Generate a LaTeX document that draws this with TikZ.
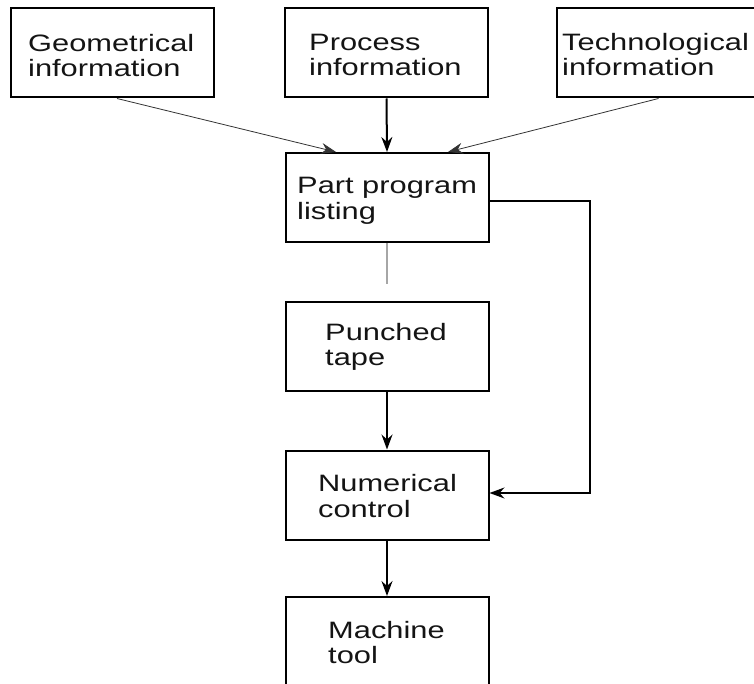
\documentclass[tikz,border=0pt]{standalone}
\usepackage{fontspec}
\setmainfont{Liberation Sans}[FakeStretch=1.3]
\usetikzlibrary{arrows.meta,calc}
\begin{document}
\begin{tikzpicture}[x=1pt,y=-1pt,
  box/.style={draw=black,line width=2pt,rectangle,minimum width=203pt,minimum height=89pt,inner sep=0pt},
  % the base anchor of a two-line label sits on its last line
  lbl/.style={anchor=base west,inner sep=0pt,align=left,font=\fontsize{23.7}{25.5}\selectfont,text=black!92},
  tip/.style={-{Stealth[length=15pt,width=11pt,inset=5pt]}},
  thin arrow/.style={tip,line width=0.8pt,draw=black!80},
  mid arrow/.style={tip,line width=1.3pt},
  bold arrow/.style={tip,line width=2pt}]
\useasboundingbox (0,0) rectangle (754,684);
\clip (0,0) rectangle (754,684);

% input boxes
\node[box] (geo)  at (112,53) {};
\node[box] (proc) at (386.5,53) {};
\node[box] (tech) at (658.5,53) {};
\node[lbl] (geoT)  at (28,77)  {Geometrical\\information};
\node[lbl] (procT) at (309,76) {Process\\information};
\node[lbl] (techT) at (562,76) {Technological\\information};

% main chain
\node[box] (part)  at (387,197.5) {};
\node[box] (tape)  at (387,346) {};
\node[box] (nc)    at (387,495) {};
\node[box] (mach)  at (387,641.5) {};
\node[lbl] (partT) at (297,219.5) {Part program\\listing};
\node[lbl] (tapeT) at (325,365.5) {Punched\\tape};
\node[lbl] (ncT)   at (318,517) {Numerical\\control};
\node[lbl] (machT) at (328,663.5) {Machine\\tool};

% inputs into the part program
\draw[thin arrow] ($(geo.south)+(5,0)$) -- ($(part.north)+(-51,0)$);
\draw[bold arrow] (proc.south) -- (part.north);
\draw[thin arrow] (tech.south) -- ($(part.north)+(61,0)$);

% broken link below the listing
\coordinate (gap) at (387,284);
\draw[line width=1.2pt,draw=black!35] (part.south) -- (gap);

% downstream flow
\draw[mid arrow] (tape.south) -- (nc.north);
\draw[mid arrow] (nc.south) -- (mach.north);

% direct feed to numerical control
\coordinate (fbTop) at (590,201);
\coordinate (fbBot) at (590,493);
\draw[mid arrow,line join=miter] (part.east |- fbTop) -- (fbTop) -- (fbBot) -- (nc.east |- fbBot);
\end{tikzpicture}
\end{document}
